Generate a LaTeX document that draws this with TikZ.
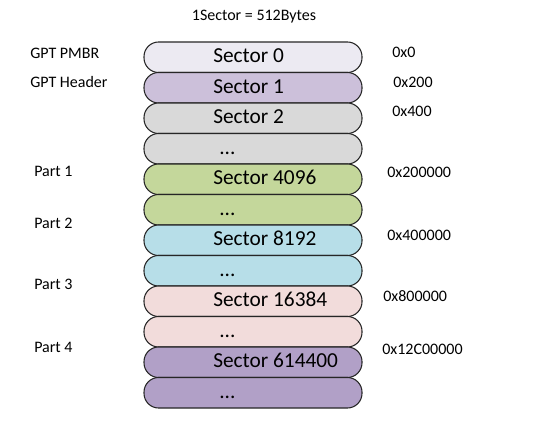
\documentclass[tikz,border=0pt]{standalone}
\usepackage{fontspec}
\setmainfont{Carlito}
\usepackage{tikz}
\definecolor{pmbr}{HTML}{ECEAF2}
\definecolor{hdr}{HTML}{CCC0DA}
\definecolor{gry}{HTML}{D9D9D9}
\definecolor{grn}{HTML}{C4D79B}
\definecolor{blu}{HTML}{B7DEE8}
\definecolor{pnk}{HTML}{F2DCDB}
\definecolor{prp}{HTML}{B1A0C7}
\newcommand{\secdots}{...}

\begin{document}
\begin{tikzpicture}[x=0.75pt, y=-0.75pt,
  sec/.style={draw=black!85, line width=0.8pt, rounded corners=11pt, minimum width=163.5pt, minimum height=22.9pt, inner sep=0pt},
  stxt/.style={anchor=west, inner sep=0pt, font=\fontsize{16}{18}\selectfont, text height=8.6pt, text depth=0pt},
  lbl/.style={anchor=base west, inner sep=0pt, font=\fontsize{12}{14}\selectfont}]
  \useasboundingbox (0,0) rectangle (542,427);
  \node[anchor=base, inner sep=0pt, font=\fontsize{12}{14}\selectfont] (title) at (254,21) {1Sector = 512Bytes};
  % sector stack
  \foreach \i/\c/\x/\t in {0/pmbr/213/Sector 0, 1/hdr/213/Sector 1, 2/gry/213/Sector 2, 3/gry/219/\secdots, 4/grn/213/Sector 4096, 5/grn/219/\secdots, 6/blu/213/Sector 8192, 7/blu/219/\secdots, 8/pnk/213/Sector 16384, 9/pnk/219/\secdots, 10/prp/213/Sector 614400, 11/prp/219/\secdots} {
    \node[sec, fill=\c] (s\i) at (253,{57.25+30.5*\i}) {};
    \node[stxt] (t\i) at (\x,{57.25+30.5*\i}) {\t};
  }
  % left labels
  \node[lbl] (pmbr) at (30,58.5) {GPT PMBR};
  \node[lbl] (header) at (30,88) {GPT Header};
  \node[lbl] (part1) at (34,177) {Part 1};
  \node[lbl] (part2) at (34,229) {Part 2};
  \node[lbl] (part3) at (34,290) {Part 3};
  \node[lbl] (part4) at (34,352) {Part 4};
  % offsets
  \node[lbl] (off0) at (392,58) {0x0};
  \node[lbl] (off1) at (393,88) {0x200};
  \node[lbl] (off2) at (392,117) {0x400};
  \node[lbl] (off3) at (387,178) {0x200000};
  \node[lbl] (off4) at (387,241) {0x400000};
  \node[lbl] (off5) at (383,301) {0x800000};
  \node[lbl] (off6) at (382,354) {0x12C00000};
\end{tikzpicture}
\end{document}
